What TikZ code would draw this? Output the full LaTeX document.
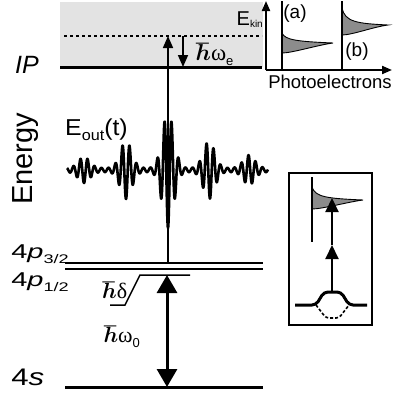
\RequirePackage{fix-cm}
\documentclass[tikz,border=0pt]{standalone}
\usepackage{bm}
\usepackage{fontspec}
\setmainfont{Liberation Sans}
\newfontfamily\grk{Liberation Serif}
\usetikzlibrary{arrows.meta}
\newcommand\fs[1]{\fontsize{#1}{#1}\selectfont}
\newcommand\hb{$\bm{\hbar}$}
\newcommand\drawpeak[5]{% x, ytop, ytip, ybot, xtip
  \filldraw[peakstyle] (#1,#2) .. controls (#1+3,#3-3) and (#1+15,#3-1.5) .. (#5,#3)
    .. controls (#5-15,#3+2) and (#1+10,#4) .. (#1,#4) -- cycle;}
\begin{document}
\begin{tikzpicture}[x=1pt,y=-1pt,
  lvl/.style={line width=2pt},
  thicklvl/.style={line width=3pt},
  thinarrow/.style={line width=1.6pt,-{Triangle[width=10pt,length=12pt]}},
  axisarrow/.style={line width=2pt,-{Triangle[width=8pt,length=10pt]}},
  insetarrow/.style={line width=2pt,-{Triangle[width=13pt,length=14pt]}},
  bigarrow/.style={line width=3pt,{Triangle[width=20pt,length=18pt]}-{Triangle[width=20pt,length=18pt]}},
  peakstyle/.style={fill=black!45,draw=black,line width=0.9pt},
  lbl/.style={inner sep=0pt}]
\useasboundingbox (0,0) rectangle (393,399);
% continuum region
\fill[black!11] (60,2) rectangle (263,67);
\draw[line width=1.3pt,dash pattern=on 3.3pt off 2.7pt] (64,36) -- (262,36);
\draw[thicklvl] (60,67) -- (262,67);
% energy levels
\draw[lvl] (65,263) -- (263,263);
\draw[lvl] (65,268.5) -- (263,268.5);
\draw[thicklvl] (65,387) -- (263,387);
% detuning bracket
\draw[line width=1.5pt] (110,305) -- (125,305) -- (140,275) -- (190,275);
% field
\draw[line width=2.6pt,line join=round,
  declare function={gw(\q,\m,\s)=exp(-min(9,((\q-\m)/\s)^2));}]
  plot[domain=67:268,samples=801] (\x,{170+cos(51.42857*(\x-168))*(2+11*gw(\x,84,8)+27*gw(\x,126,8)+56*gw(\x,168,8)+27*gw(\x,209,8)+13*gw(\x,249,8))});
% arrows
\coordinate (vb) at (168,263);
\coordinate (vt) at (168,36);
\draw[thinarrow] (vb) -- (vt);
\coordinate (eb) at (183,36);
\coordinate (ee) at (183,67);
\draw[thinarrow] (eb) -- (ee);
\coordinate (dt) at (167,275);
\coordinate (db) at (167,387);
\draw[bigarrow] (db) -- (dt);
% photoelectron axes
\coordinate (ax0) at (266,70);
\coordinate (axy) at (266,1);
\coordinate (axx) at (392,70);
\drawpeak{282}{33}{43}{53}{333}
\drawpeak{342}{8}{25}{35}{388}
\draw[line width=1.5pt] (282,1) -- (282,70);
\draw[line width=1.5pt] (342,1) -- (342,70);
\draw[axisarrow] (ax0) -- (axy);
\draw[axisarrow] (ax0) -- (axx);
% labels
\node[anchor=base,lbl,font=\fs{25}\itshape] (ip) at (27,73) {IP};
\node[anchor=base,rotate=90,lbl,font=\fs{29}] (energy) at (32,159) {Energy};
\node[anchor=base west,lbl,font=\fs{23},xscale=1.08] (eout) at (65,135) {E\raisebox{-5pt}{\fs{15}out}(t)};
\node[anchor=base west,lbl,font=\fs{20},xscale=1.45] (p32) at (11,258) {4\textit{p}\raisebox{-5pt}{\fs{12.5}3/2}};
\node[anchor=base west,lbl,font=\fs{20},xscale=1.45] (p12) at (11,286) {4\textit{p}\raisebox{-5pt}{\fs{12.5}1/2}};
\node[anchor=base west,lbl,font=\fs{24},xscale=1.3] (s4) at (11,385) {4\textit{s}};
\node[anchor=base west,lbl,font=\fs{23}] (hwe) at (196,60) {\hb{\grk ω}\raisebox{-5pt}{\fs{13}e}};
\node[lbl,font=\fs{22}] (hd) at (115,290) {\hb{\grk δ}};
\node[lbl,font=\fs{22}] (hw0) at (122,337) {\hb{\grk ω}\raisebox{-5pt}{\fs{13}0}};
\node[anchor=base east,lbl,font=\fs{20}] (ekin) at (263,25) {E\raisebox{-2pt}{\fs{10}kin}};
\node[lbl,font=\fs{19}] (la) at (295,14) {(a)};
\node[lbl,font=\fs{19}] (lb) at (357,52) {(b)};
\node[lbl,font=\fs{18.5}] (pe) at (330,82) {Photoelectrons};
% inset
\draw[line width=2pt] (289,173) rectangle (372,325);
\drawpeak{312}{187}{200}{209}{363}
\draw[line width=2pt] (312,177) -- (312,242);
\coordinate (ib) at (332,292);
\coordinate (im) at (332,245);
\coordinate (it) at (332,198);
\draw[insetarrow] (ib) -- (im);
\draw[insetarrow] (im) -- (it);
\draw[line width=3pt,rounded corners=4pt] (295,305) -- (316,305) -- (324,292) -- (341,292) -- (349,305) -- (367,305);
\draw[line width=1.6pt,dash pattern=on 3pt off 2pt,rounded corners=3pt] (316,305) -- (326,318) -- (339,318) -- (349,305);
\end{tikzpicture}
\end{document}
